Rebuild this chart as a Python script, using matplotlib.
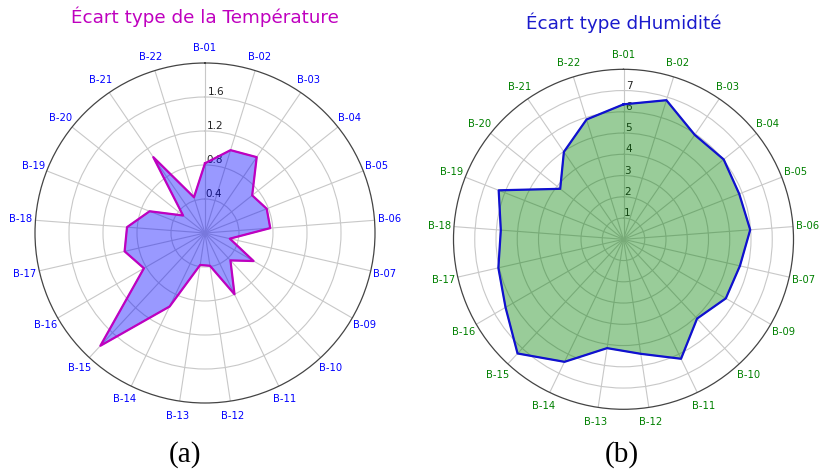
import numpy as np
import matplotlib
matplotlib.use("Agg")
import matplotlib.pyplot as plt

stations = ["B-01", "B-02", "B-03", "B-04", "B-05", "B-06", "B-07", "B-09", "B-10", "B-11",
            "B-12", "B-13", "B-14", "B-15", "B-16", "B-17", "B-18", "B-19", "B-20", "B-21", "B-22"]
std_temp = [0.82, 1.02, 1.08, 0.71, 0.78, 0.77, 0.30, 0.66, 0.44, 0.80,
            0.39, 0.38, 0.96, 1.81, 0.83, 0.97, 0.92, 0.70, 0.33, 1.08, 0.44]
std_hum = [6.35, 6.85, 5.95, 6.03, 5.85, 5.98, 5.62, 5.56, 5.09, 6.24,
           5.45, 5.18, 6.40, 7.33, 6.41, 6.04, 5.79, 6.31, 3.81, 4.98, 5.90]
temp_ticks = [0.4, 0.8, 1.2, 1.6]
hum_ticks = [1, 2, 3, 4, 5, 6, 7]

n = len(stations)
angles = np.linspace(0, 2 * np.pi, n, endpoint=False)
ang_closed = np.append(angles, angles[0])

fig = plt.figure(figsize=(8.2, 4.71), dpi=100)
W, H = 820.0, 471.0

def radar(rect, vals, rmax, ticks, fill_col, edge_col, lab_col):
    ax = fig.add_axes(rect, projection="polar")
    ax.set_theta_zero_location("N")
    ax.set_theta_direction(-1)
    v = np.append(vals, vals[0])
    ax.fill(ang_closed, v, color=fill_col, alpha=0.4, zorder=2)
    ax.plot(ang_closed, v, color=edge_col, lw=1.6, zorder=3)
    ax.set_ylim(0, rmax)
    ax.set_yticks(ticks)
    ax.set_yticklabels([str(t) for t in ticks], fontsize=7.5, color="#222222")
    ax.set_rlabel_position(1)
    ax.set_xticks(angles)
    ax.set_xticklabels(stations, fontsize=7.2, color=lab_col)
    ax.tick_params(axis="x", pad=0)
    ax.grid(color="#c8c8c8", lw=0.8)
    ax.spines["polar"].set_color("#444444")
    ax.spines["polar"].set_linewidth(0.9)
    return ax

radar([35 / W, 68 / H, 340 / W, 340 / H], std_temp, 2.0, temp_ticks,
      "blue", "m", "blue")
radar([453.5 / W, 61.7 / H, 340 / W, 340 / H], std_hum, 8.0, hum_ticks,
      "green", "#1010d0", "green")

fig.text(205 / W, 1 - 17 / H, "Écart type de la Température", color="m",
         fontsize=13.2, ha="center", va="center")
fig.text(624 / W, 1 - 23 / H, "Écart type dHumidité", color="#1a1acc",
         fontsize=13.2, ha="center", va="center")
fig.text(185 / W, 1 - 455 / H, "(a)", family="Liberation Serif", fontsize=21,
         ha="center", va="center")
fig.text(622 / W, 1 - 455 / H, "(b)", family="Liberation Serif", fontsize=21,
         ha="center", va="center")

fig.savefig("out.png", dpi=100)
